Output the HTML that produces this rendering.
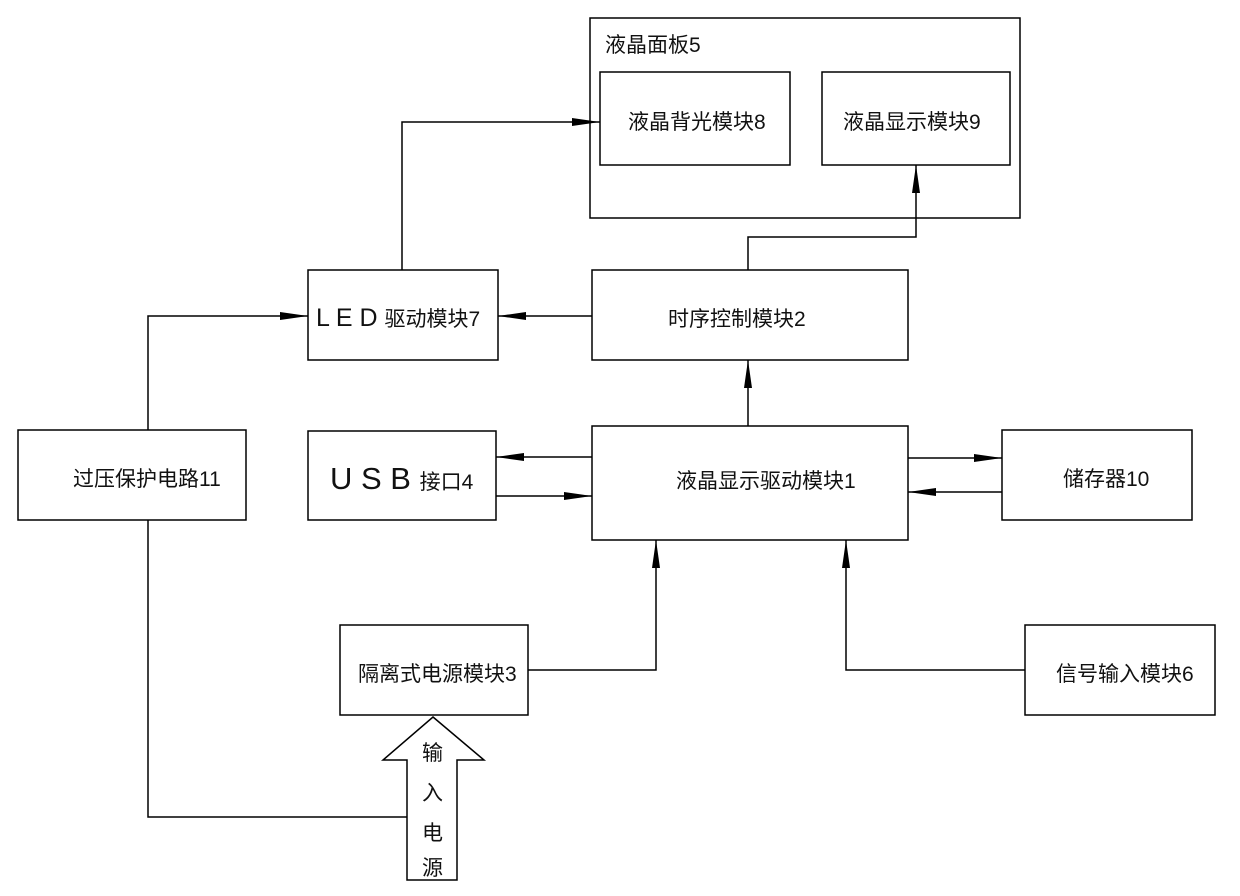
<!DOCTYPE html>
<html><head><meta charset="utf-8"><style>
body{margin:0;background:#fff}
svg text{font-family:"Liberation Sans","Noto Sans CJK SC",sans-serif;font-size:21px;fill:#111}
</style></head><body>
<svg width="1240" height="891" viewBox="0 0 1240 891" xmlns="http://www.w3.org/2000/svg">
<defs><marker id="b" markerWidth="28" markerHeight="10" refX="28" refY="5" orient="auto" markerUnits="userSpaceOnUse"><path d="M0,1 L28,5 L0,9 z" fill="#000"/></marker></defs>
<g fill="none" stroke="#000" stroke-width="1.5">
<rect x="590" y="18" width="430" height="200"/>
<rect x="600" y="72" width="190" height="93"/>
<rect x="822" y="72" width="188" height="93"/>
<rect x="308" y="270" width="190" height="90"/>
<rect x="592" y="270" width="316" height="90"/>
<rect x="18" y="430" width="228" height="90"/>
<rect x="308" y="431" width="188" height="89"/>
<rect x="592" y="426" width="316" height="114"/>
<rect x="1002" y="430" width="190" height="90"/>
<rect x="340" y="625" width="188" height="90"/>
<rect x="1025" y="625" width="190" height="90"/>
<path d="M402,270 V122 H600" marker-end="url(#b)"/>
<path d="M748,270 V237 H916 V165" marker-end="url(#b)"/>
<path d="M592,316 H498" marker-end="url(#b)"/>
<path d="M748,426 V360" marker-end="url(#b)"/>
<path d="M592,457 H496" marker-end="url(#b)"/>
<path d="M496,496 H592" marker-end="url(#b)"/>
<path d="M908,458 H1002" marker-end="url(#b)"/>
<path d="M1002,492 H908" marker-end="url(#b)"/>
<path d="M148,430 V316 H308" marker-end="url(#b)"/>
<path d="M148,520 V817 H407"/>
<path d="M528,670 H656 V540" marker-end="url(#b)"/>
<path d="M1025,670 H846 V540" marker-end="url(#b)"/>
<path d="M433,717 L484,760 H457 V880 H407 V760 H383 Z"/>
</g>
<text x="605" y="52">液晶面板5</text>
<text x="628" y="129">液晶背光模块8</text>
<text x="843" y="129">液晶显示模块9</text>
<text x="316" y="326" style="font-size:25px">L E D <tspan style="font-size:21px">驱动模块7</tspan></text>
<text x="668" y="326">时序控制模块2</text>
<text x="73" y="486">过压保护电路11</text>
<text x="330" y="489" style="font-size:31px">U S B <tspan style="font-size:21px">接口4</tspan></text>
<text x="676" y="488">液晶显示驱动模块1</text>
<text x="1063" y="486">储存器10</text>
<text x="358" y="681">隔离式电源模块3</text>
<text x="1056" y="681">信号输入模块6</text>
<text x="422" y="760">输</text>
<text x="422" y="800">入</text>
<text x="422" y="840">电</text>
<text x="422" y="875">源</text>
</svg>
</body></html>
